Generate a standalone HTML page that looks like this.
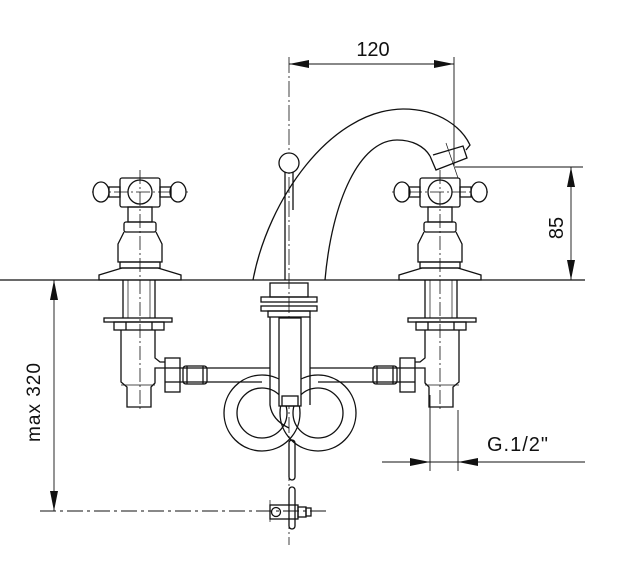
<!DOCTYPE html>
<html><head><meta charset="utf-8"><style>
html,body{margin:0;padding:0;background:#fff;width:619px;height:568px;overflow:hidden}
svg{display:block}
text{font-family:"Liberation Sans",sans-serif;fill:#111}
</style></head><body>
<svg width="619" height="568" viewBox="0 0 619 568" xmlns="http://www.w3.org/2000/svg">
<defs>
<g id="half" fill="none" stroke="#111" stroke-width="1.3">
  <line x1="92" y1="192" x2="188" y2="192" stroke-width="0.8" stroke-dasharray="14 3 2 3"/>
  <line x1="140" y1="170" x2="140" y2="412" stroke-width="0.8" stroke-dasharray="14 3 2 3"/>
  <ellipse cx="101" cy="192" rx="8" ry="10" fill="#fff"/>
  <ellipse cx="178" cy="192" rx="8" ry="10" fill="#fff"/>
  <rect x="109" y="187" width="11" height="10"/>
  <rect x="160" y="187" width="11" height="10"/>
  <rect x="120" y="178" width="40" height="29" rx="2"/>
  <circle cx="140" cy="192" r="12"/>
  <rect x="128" y="207" width="24" height="15"/>
  <rect x="124" y="222" width="32" height="10" rx="2"/>
  <path d="M124,232 L118,244 L118,262 L162,262 L162,244 L156,232"/>
  <rect x="120" y="262" width="40" height="6"/>
  <path d="M122,268 L158,268 L181,275 L181,280 L99,280 L99,275 Z"/>
  <line x1="123" y1="280" x2="123" y2="318"/><line x1="155" y1="280" x2="155" y2="318"/>
  <line x1="128" y1="280" x2="128" y2="318" stroke-width="0.7"/><line x1="150" y1="280" x2="150" y2="318" stroke-width="0.7"/>
  <rect x="104" y="318" width="68" height="4"/>
  <rect x="114" y="322" width="50" height="8"/>
  <line x1="126" y1="322" x2="126" y2="330"/><line x1="152" y1="322" x2="152" y2="330"/>
  <path d="M121,330 L121,382 L127,387 L127,407 L151,407 L151,387 L155,383 L155,368 L165,368 M155,330 L155,358 L160,362 L165,362"/>
  <line x1="121" y1="385" x2="155" y2="385" stroke-width="0.8"/>
  <rect x="165" y="358" width="15" height="34"/>
  <line x1="165" y1="368" x2="180" y2="368"/><line x1="165" y1="382" x2="180" y2="382"/>
  <path d="M180,368 L270,368 M180,382 L262,382"/>
  <rect x="183" y="366" width="24" height="18" rx="3"/>
  <line x1="187" y1="366" x2="187" y2="384"/><line x1="203" y1="366" x2="203" y2="384"/>
  <circle cx="262" cy="413" r="38"/>
  <circle cx="262" cy="413" r="25"/>
</g>
</defs>
<g>
<use href="#half"/>
<use href="#half" transform="translate(580,0) scale(-1,1)"/>
</g>
<g fill="none" stroke="#111" stroke-width="1.3">
  <line x1="0" y1="280" x2="585" y2="280"/>
  <line x1="289" y1="57" x2="289" y2="545" stroke-width="0.8" stroke-dasharray="16 3 2 3"/>
  <path d="M253,280 C268,200 330,110 403,109 C440,109 462,128 470,145 L466,150"/>
  <path d="M325,280 C332,200 360,140 397,140 C412,140 424,146 430,156"/>
  <path d="M430,156 L436,170 L467,158 L463,146 L433,155" fill="#fff"/>
  <line x1="446" y1="143" x2="458" y2="178" stroke-width="0.7"/>
  <line x1="285" y1="172" x2="285" y2="280"/><line x1="293" y1="172" x2="293" y2="210"/>
  <circle cx="289" cy="163" r="10" fill="#fff"/>
  <rect x="270" y="283" width="38" height="14"/>
  <rect x="261" y="297" width="56" height="5"/>
  <rect x="261" y="306" width="56" height="5"/>
  <rect x="268" y="311" width="42" height="6"/>
  <path d="M270,317 L270,405 Q272,420 289,428 M310,317 L310,405"/>
  <rect x="279" y="318" width="22" height="88" fill="#fff"/>
  <rect x="282" y="396" width="16" height="10"/>
  <rect x="289" y="440" width="6" height="40" rx="3"/>
  <rect x="289" y="487" width="6" height="42" rx="3"/>
  <rect x="270" y="505" width="28" height="14"/>
  <circle cx="276" cy="512" r="4.5"/>
  <rect x="298" y="507" width="8" height="10"/>
  <rect x="306" y="508" width="5" height="8"/>
  <line x1="270" y1="500" x2="270" y2="522" stroke-width="0.7"/>
  <g stroke-width="0.9">
    <line x1="289" y1="64" x2="454" y2="64"/>
    <line x1="454" y1="57" x2="454" y2="166"/>
    <line x1="455" y1="167" x2="583" y2="167"/>
    <line x1="571" y1="167" x2="571" y2="280"/>
    <line x1="54" y1="280" x2="54" y2="511"/>
    <line x1="40" y1="511" x2="330" y2="511" stroke-dasharray="16 4 3 4"/>
    <line x1="382" y1="462" x2="585" y2="462"/>
    <line x1="430" y1="395" x2="430" y2="471"/>
    <line x1="458" y1="410" x2="458" y2="471"/>
  </g>
</g>
<g fill="#111">
  <path d="M289,64 L309,60 L309,68 Z"/>
  <path d="M454,64 L434,60 L434,68 Z"/>
  <path d="M571,167 L567,187 L575,187 Z"/>
  <path d="M571,280 L567,260 L575,260 Z"/>
  <path d="M54,280 L50,300 L58,300 Z"/>
  <path d="M54,511 L50,491 L58,491 Z"/>
  <path d="M430,462 L410,458 L410,466 Z"/>
  <path d="M458,462 L478,458 L478,466 Z"/>
</g>
<text x="373" y="56" font-size="20" text-anchor="middle">120</text>
<text transform="translate(563,228) rotate(-90)" font-size="20" text-anchor="middle">85</text>
<text transform="translate(40,402) rotate(-90)" font-size="19" text-anchor="middle" letter-spacing="1">max 320</text>
<text x="487" y="451" font-size="20" letter-spacing="1">G.1/2"</text>
</svg>
</body></html>
